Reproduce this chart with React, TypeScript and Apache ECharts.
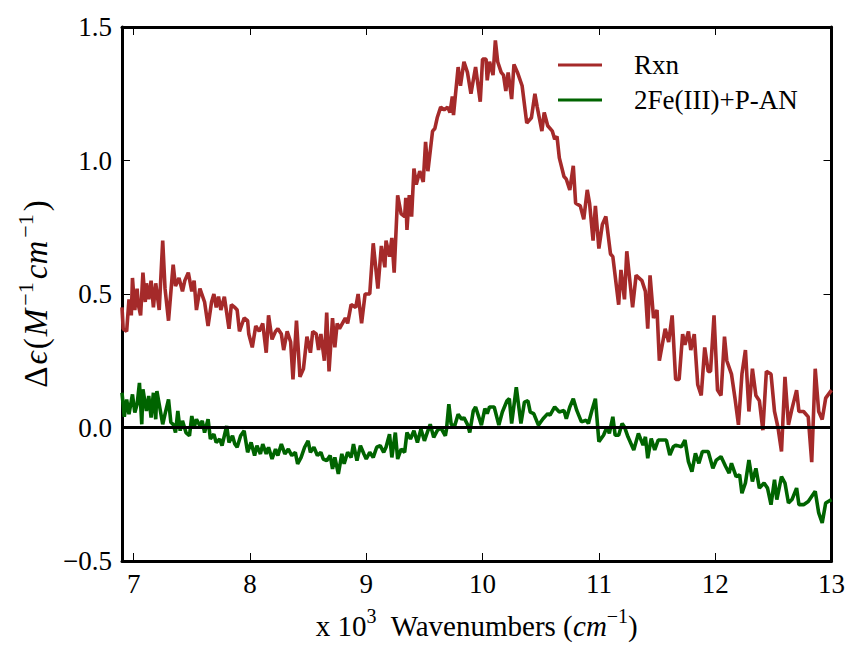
import React, { useEffect, useRef } from "react";
import * as echarts from "echarts";

const redX = [6.90,6.91,6.94,6.96,6.98,6.99,7.01,7.03,7.04,7.06,7.08,7.10,7.11,7.13,7.15,7.17,7.19,7.22,7.25,7.27,7.30,7.33,7.34,7.36,7.39,7.42,7.44,7.47,7.50,7.52,7.54,7.57,7.61,7.64,7.67,7.69,7.71,7.73,7.75,7.78,7.82,7.84,7.87,7.89,7.91,7.95,7.98,7.99,8.02,8.05,8.08,8.11,8.14,8.16,8.19,8.22,8.24,8.27,8.29,8.32,8.35,8.37,8.40,8.43,8.46,8.49,8.52,8.54,8.57,8.59,8.61,8.64,8.66,8.68,8.71,8.73,8.75,8.77,8.82,8.84,8.87,8.91,8.93,8.96,8.99,9.03,9.06,9.10,9.13,9.16,9.17,9.20,9.22,9.24,9.27,9.30,9.33,9.34,9.35,9.37,9.39,9.41,9.43,9.46,9.49,9.51,9.53,9.57,9.59,9.61,9.64,9.67,9.70,9.72,9.74,9.75,9.79,9.81,9.84,9.87,9.90,9.94,9.98,10.00,10.03,10.04,10.06,10.09,10.11,10.13,10.16,10.18,10.20,10.22,10.25,10.27,10.30,10.34,10.38,10.42,10.45,10.47,10.51,10.53,10.56,10.60,10.62,10.64,10.66,10.70,10.72,10.75,10.78,10.80,10.84,10.87,10.90,10.92,10.95,10.97,11.00,11.03,11.06,11.10,11.12,11.17,11.19,11.22,11.24,11.29,11.32,11.37,11.40,11.42,11.44,11.47,11.50,11.52,11.57,11.60,11.63,11.66,11.69,11.72,11.74,11.77,11.79,11.82,11.85,11.88,11.91,11.94,11.96,11.99,12.02,12.05,12.08,12.10,12.14,12.17,12.20,12.23,12.26,12.29,12.32,12.35,12.38,12.41,12.44,12.48,12.51,12.54,12.57,12.60,12.63,12.66,12.70,12.72,12.76,12.80,12.83,12.86,12.89,12.92,12.95,13.00];
const redY = [0.45,0.37,0.36,0.48,0.42,0.56,0.44,0.52,0.46,0.42,0.58,0.47,0.54,0.48,0.55,0.45,0.54,0.44,0.70,0.52,0.40,0.56,0.61,0.53,0.56,0.51,0.55,0.58,0.51,0.55,0.44,0.52,0.47,0.38,0.47,0.50,0.45,0.49,0.44,0.49,0.37,0.46,0.45,0.44,0.36,0.41,0.40,0.35,0.30,0.38,0.36,0.39,0.28,0.42,0.33,0.36,0.37,0.35,0.29,0.36,0.32,0.18,0.40,0.19,0.22,0.34,0.28,0.36,0.35,0.29,0.35,0.25,0.43,0.21,0.41,0.30,0.39,0.37,0.41,0.39,0.46,0.45,0.50,0.39,0.50,0.50,0.69,0.52,0.68,0.60,0.70,0.64,0.71,0.58,0.87,0.80,0.79,0.86,0.74,0.87,0.79,0.97,0.91,0.96,0.92,1.07,0.96,1.11,1.12,1.16,1.20,1.19,1.20,1.18,1.24,1.17,1.35,1.28,1.37,1.33,1.25,1.35,1.22,1.38,1.38,1.30,1.37,1.32,1.45,1.37,1.33,1.32,1.26,1.33,1.23,1.36,1.33,1.28,1.14,1.16,1.25,1.20,1.11,1.18,1.13,1.11,1.08,1.09,1.01,0.94,0.93,0.89,0.98,0.84,0.83,0.78,0.89,0.84,0.70,0.83,0.67,0.76,0.79,0.65,0.64,0.46,0.59,0.48,0.66,0.45,0.57,0.55,0.51,0.37,0.57,0.41,0.44,0.25,0.37,0.32,0.42,0.18,0.18,0.35,0.31,0.36,0.29,0.35,0.16,0.12,0.30,0.21,0.21,0.42,0.14,0.12,0.34,0.25,0.20,0.11,0.01,0.20,0.29,0.06,0.22,0.12,0.10,-0.01,0.21,0.20,0.06,0.00,-0.09,0.19,0.01,0.07,0.14,0.06,0.06,0.04,-0.13,0.22,0.06,0.03,0.11,0.14];

const greenX = [6.90,6.92,6.94,6.96,6.99,7.01,7.03,7.05,7.07,7.08,7.11,7.13,7.15,7.17,7.19,7.20,7.23,7.25,7.27,7.30,7.32,7.34,7.36,7.38,7.40,7.42,7.45,7.48,7.50,7.52,7.54,7.57,7.59,7.61,7.64,7.66,7.69,7.71,7.74,7.76,7.78,7.80,7.82,7.85,7.87,7.89,7.92,7.95,7.98,8.01,8.04,8.06,8.09,8.11,8.14,8.16,8.19,8.22,8.24,8.27,8.30,8.33,8.36,8.39,8.41,8.44,8.47,8.50,8.52,8.55,8.58,8.61,8.63,8.66,8.69,8.71,8.73,8.76,8.79,8.81,8.84,8.87,8.89,8.92,8.95,8.98,9.00,9.03,9.06,9.09,9.12,9.15,9.17,9.20,9.22,9.25,9.27,9.30,9.33,9.35,9.38,9.41,9.44,9.47,9.50,9.53,9.55,9.58,9.61,9.64,9.68,9.69,9.71,9.73,9.76,9.79,9.82,9.84,9.87,9.89,9.92,9.94,9.99,10.02,10.04,10.06,10.10,10.14,10.17,10.21,10.23,10.25,10.29,10.33,10.36,10.39,10.41,10.44,10.48,10.52,10.56,10.58,10.62,10.66,10.70,10.72,10.75,10.78,10.81,10.85,10.89,10.91,10.94,10.97,11.00,11.04,11.07,11.09,11.12,11.14,11.17,11.20,11.22,11.25,11.30,11.34,11.38,11.40,11.42,11.45,11.48,11.51,11.55,11.58,11.61,11.64,11.66,11.71,11.74,11.77,11.80,11.83,11.86,11.89,11.94,11.98,12.01,12.05,12.09,12.12,12.14,12.18,12.21,12.23,12.26,12.29,12.32,12.35,12.38,12.42,12.45,12.48,12.51,12.53,12.57,12.60,12.63,12.66,12.70,12.72,12.76,12.80,12.86,12.89,12.92,12.95,13.00];
const greenY = [0.13,0.04,0.105,0.05,0.124,0.056,0.087,0.167,0.012,0.143,0.062,0.118,0.037,0.13,0.031,0.136,0.062,0.012,0.05,0.105,0.019,0.012,-0.019,0.062,-0.012,0.025,-0.019,-0.031,0.043,0.0,0.031,0.006,0.025,-0.019,0.031,-0.043,-0.025,-0.056,-0.043,-0.068,-0.031,0.006,-0.056,-0.031,-0.062,-0.074,-0.031,-0.012,-0.093,-0.056,-0.105,-0.068,-0.099,-0.062,-0.099,-0.074,-0.118,-0.081,-0.105,-0.062,-0.099,-0.081,-0.105,-0.093,-0.136,-0.112,-0.074,-0.05,-0.093,-0.074,-0.105,-0.093,-0.118,-0.124,-0.105,-0.155,-0.112,-0.174,-0.099,-0.136,-0.093,-0.112,-0.062,-0.124,-0.068,-0.099,-0.118,-0.093,-0.112,-0.074,-0.068,-0.093,-0.074,-0.025,-0.112,-0.019,-0.118,-0.081,-0.093,-0.019,-0.043,-0.012,-0.056,-0.006,-0.05,-0.012,0.012,-0.037,-0.012,0.0,-0.031,-0.006,0.087,0.012,0.006,0.05,0.031,0.037,0.012,-0.019,0.062,0.077,0.009,0.071,0.052,0.077,0.077,0.009,0.058,0.10,0.108,0.015,0.151,0.015,0.095,0.10,0.058,0.052,0.009,0.033,0.052,0.046,0.077,0.058,0.064,0.033,0.077,0.108,0.064,0.021,0.027,0.015,0.064,0.108,-0.053,-0.029,0.002,-0.022,0.04,-0.029,-0.029,0.015,0.002,-0.035,-0.084,-0.022,-0.066,-0.035,-0.115,-0.041,-0.084,-0.047,-0.047,-0.047,-0.103,-0.072,-0.066,-0.072,-0.047,-0.128,-0.165,-0.097,-0.134,-0.09,-0.09,-0.153,-0.122,-0.109,-0.146,-0.171,-0.134,-0.184,-0.177,-0.246,-0.208,-0.122,-0.202,-0.153,-0.227,-0.208,-0.227,-0.289,-0.196,-0.27,-0.184,-0.208,-0.283,-0.27,-0.227,-0.289,-0.289,-0.277,-0.239,-0.32,-0.357,-0.283,-0.27];

const xTicks = [7, 8, 9, 10, 11, 12, 13];
const seriesNames = ["Rxn", "2Fe(III)+P-AN"];

const FONT = "'Liberation Serif', 'Times New Roman', serif";

export default function App() {
  const ref = useRef<HTMLDivElement>(null);
  useEffect(() => {
    if (!ref.current) return;
    const chart = echarts.init(ref.current, null, { renderer: "svg" });
    const axisLine = { show: true, onZero: false, lineStyle: { color: "#000", width: 3 } };
    const tick = { show: true, inside: true, length: 8, lineStyle: { color: "#000", width: 1 } };
    const labelBase = { fontFamily: FONT, fontSize: 27, color: "#000" };
    const richX = {
      t: { fontFamily: FONT, fontSize: 29, color: "#000", lineHeight: 34, verticalAlign: "bottom" },
      i: { fontFamily: FONT, fontSize: 29, fontStyle: "italic", color: "#000", lineHeight: 34, verticalAlign: "bottom" },
      s: { fontFamily: FONT, fontSize: 20, color: "#000", lineHeight: 18, verticalAlign: "top" },
    };
    const richY = {
      t: { fontFamily: FONT, fontSize: 33, color: "#000", lineHeight: 38, verticalAlign: "bottom", padding: [0, 1, 0, 1] },
      i: { fontFamily: FONT, fontSize: 33, fontStyle: "italic", color: "#000", lineHeight: 38, verticalAlign: "bottom", padding: [0, 1, 0, 1] },
      s: { fontFamily: FONT, fontSize: 22, color: "#000", lineHeight: 20, verticalAlign: "top", padding: [0, 2, 0, 2] },
    };
    const option = {
      animation: false,
      backgroundColor: "#fff",
      textStyle: { fontFamily: FONT },
      grid: { left: 122, right: 14, top: 27, bottom: 81, containLabel: false },
      legend: {
        orient: "vertical",
        left: 553,
        top: 44,
        itemWidth: 44,
        itemHeight: 3,
        itemGap: 3,
        icon: "rect",
        selectedMode: false,
        data: seriesNames,
        textStyle: { fontFamily: FONT, fontSize: 27, color: "#000", lineHeight: 32, padding: [0, 0, 0, 27] },
      },
      xAxis: [
        {
          type: "value",
          min: 6.9,
          max: 13,
          position: "bottom",
          axisLine,
          axisTick: { ...tick, customValues: xTicks },
          axisLabel: { ...labelBase, margin: 9, customValues: xTicks },
          splitLine: { show: false },
          name: "{t|x 10}{s|3}{t|  Wavenumbers (}{i|cm}{s|−1}{t|)}",
          nameLocation: "middle",
          nameGap: 45,
          nameTextStyle: { ...labelBase, rich: richX },
        },
        {
          type: "value",
          min: 6.9,
          max: 13,
          position: "top",
          axisLine,
          axisTick: { ...tick, customValues: xTicks },
          axisLabel: { show: false, customValues: xTicks },
          splitLine: { show: false },
        },
      ],
      yAxis: [
        {
          type: "value",
          min: -0.5,
          max: 1.5,
          interval: 0.5,
          position: "left",
          axisLine,
          axisTick: tick,
          axisLabel: {
            ...labelBase,
            margin: 10,
            formatter: (v: number) => v.toFixed(1).replace("-", "−"),
          },
          splitLine: { show: false },
          name: "{t|Δ}{i|ϵ}{t|(}{i|M}{s|−1}{i|cm}{s|−1}{t|)}",
          nameLocation: "middle",
          nameRotate: 90,
          nameGap: 62,
          nameTextStyle: { ...labelBase, rich: richY },
        },
        {
          type: "value",
          min: -0.5,
          max: 1.5,
          interval: 0.5,
          position: "right",
          axisLine,
          axisTick: tick,
          axisLabel: { show: false },
          splitLine: { show: false },
        },
      ],
      series: [
        {
          type: "line",
          name: seriesNames[0],
          data: redX.map((x, i) => [x, redY[i]]),
          symbol: "none",
          showSymbol: false,
          lineStyle: { color: "#A52A2A", width: 3.6 },
          itemStyle: { color: "#A52A2A" },
          clip: true,
        },
        {
          type: "line",
          name: seriesNames[1],
          data: greenX.map((x, i) => [x, greenY[i]]),
          symbol: "none",
          showSymbol: false,
          lineStyle: { color: "#006400", width: 3.6 },
          itemStyle: { color: "#006400" },
          clip: true,
          markLine: {
            silent: true,
            symbol: ["none", "none"],
            label: { show: false },
            lineStyle: { color: "#000", width: 3, type: "solid" },
            data: [{ yAxis: 0 }],
          },
        },
      ],
    };
    chart.setOption(option as any);
    return () => chart.dispose();
  }, []);
  return (
    <div
      ref={ref}
      style={{ position: "fixed", left: 0, top: 0, width: 848, height: 645, background: "#fff" }}
    />
  );
}
